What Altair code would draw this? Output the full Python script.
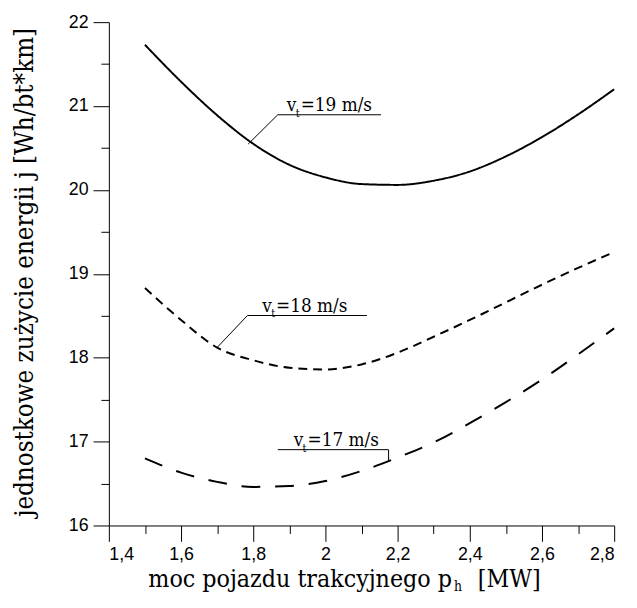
import altair as alt
import pandas as pd

# ---- data ----
power = [1.5, 1.6, 1.7, 1.8, 1.9, 2.0, 2.1, 2.2, 2.3, 2.4, 2.5, 2.6, 2.7, 2.8]
e19 = [21.73, 21.29, 20.89, 20.55, 20.30, 20.15, 20.07, 20.06, 20.11, 20.22, 20.40, 20.63, 20.90, 21.20]
e18 = [18.83, 18.45, 18.12, 17.97, 17.88, 17.86, 17.92, 18.06, 18.25, 18.45, 18.66, 18.87, 19.07, 19.26]
e17 = [16.80, 16.63, 16.52, 16.46, 16.47, 16.53, 16.65, 16.81, 16.99, 17.22, 17.47, 17.74, 18.04, 18.35]
series_names = ["19", "18", "17"]

x_major = [1.4, 1.6, 1.8, 2.0, 2.2, 2.4, 2.6, 2.8]
x_minor = [1.5, 1.7, 1.9, 2.1, 2.3, 2.5, 2.7]
y_major = [16, 17, 18, 19, 20, 21, 22]
y_minor = [16.5, 17.5, 18.5, 19.5, 20.5, 21.5]

# annotation leaders (data units)
lead_x = [1.786, 1.868, 1.700, 1.784, 1.868, 2.175]
lead_y = [20.547, 20.896, 18.122, 18.503, 16.904, 16.904]
lead_x2 = [1.868, 2.154, 1.784, 2.115, 2.175, 2.175]
lead_y2 = [20.896, 20.896, 18.503, 18.503, 16.904, 16.775]
lab_x = [1.893, 1.825, 1.912]
lab_y = [20.896, 18.503, 16.904]
lab_rest = ["=19 m/s", "=18 m/s", "=17 m/s"]

W, H = 511, 509
SANS = "Liberation Sans"
SERIF_C = "DejaVu Serif Condensed, DejaVu Serif"

rows = []
for name, vals in zip(series_names, [e19, e18, e17]):
    for xv, yv in zip(power, vals):
        rows.append({"x": xv, "y": yv, "s": name})
df = pd.DataFrame(rows)

xs = alt.Scale(domain=[1.4, 2.8], nice=False, zero=False)
ys = alt.Scale(domain=[16, 22], nice=False, zero=False)

lines = alt.Chart(df).mark_line(color="black", strokeWidth=2, interpolate="monotone").encode(
    x=alt.X("x:Q", scale=xs, axis=alt.Axis(values=x_major, tickSize=16, labelPadding=4,
                                             labelExpr="replace(format(datum.value, '.1~f'), '.', ',')",
                                             title=None, orient="bottom")),
    y=alt.Y("y:Q", scale=ys, axis=alt.Axis(values=y_major, tickSize=16, labelPadding=5,
                                             title="jednostkowe zużycie energii j [Wh/bt*km]",
                                             titleFont=SERIF_C, titleFontSize=26, titleFontWeight="normal",
                                             titleAngle=270, titleX=-77, titleY=H / 2 - 2,
                                             titleAlign="center", titleBaseline="alphabetic",
                                             titleColor="black", orient="left")),
    detail="s:N",
    strokeDash=alt.StrokeDash("s:N", scale=alt.Scale(domain=series_names,
                                                      range=[[1, 0], [9, 6], [19, 15]]), legend=None),
)

minor = alt.Chart(df).mark_line(opacity=0).encode(
    x=alt.X("x:Q", scale=xs, axis=alt.Axis(values=x_minor, tickSize=8, labels=False, domain=False,
                                             title=None, orient="bottom")),
    y=alt.Y("y:Q", scale=ys, axis=alt.Axis(values=y_minor, tickSize=8, labels=False, domain=False,
                                             title=None, orient="left")),
)

lead_df = pd.DataFrame({"x": lead_x, "y": lead_y, "x2": lead_x2, "y2": lead_y2})
leaders = alt.Chart(lead_df).mark_rule(color="black", strokeWidth=1).encode(
    x=alt.X("x:Q", scale=xs, axis=None), y=alt.Y("y:Q", scale=ys, axis=None),
    x2="x2:Q", y2="y2:Q")

lab_df = pd.DataFrame({"x": lab_x, "y": lab_y, "rest": lab_rest, "v": ["v"] * 3, "t": ["t"] * 3})
base_lab = alt.Chart(lab_df)
enc = dict(x=alt.X("x:Q", scale=xs, axis=None), y=alt.Y("y:Q", scale=ys, axis=None))
t_v = base_lab.mark_text(font=SERIF_C, fontSize=19, align="left", baseline="alphabetic", dy=-4,
                         color="black").encode(text="v:N", **enc)
t_t = base_lab.mark_text(font=SERIF_C, fontSize=11, align="left", baseline="alphabetic", dx=9, dy=2,
                         color="black").encode(text="t:N", **enc)
t_r = base_lab.mark_text(font=SERIF_C, fontSize=19, align="left", baseline="alphabetic", dx=14, dy=-4,
                         color="black").encode(text="rest:N", **enc)

# x-axis title drawn as text so that the subscript can be kept
tdf = pd.DataFrame({"a": ["moc pojazdu trakcyjnego p"], "b": ["h"], "c": ["[MW]"]})
tt = alt.Chart(tdf)
x_t1 = tt.mark_text(font=SERIF_C, fontSize=25, align="right", baseline="alphabetic", color="black").encode(
    text="a:N", x=alt.value(347), y=alt.value(H + 62))
x_t2 = tt.mark_text(font=SERIF_C, fontSize=14, align="left", baseline="alphabetic", color="black").encode(
    text="b:N", x=alt.value(349), y=alt.value(H + 66))
x_t3 = tt.mark_text(font=SERIF_C, fontSize=25, align="left", baseline="alphabetic", color="black").encode(
    text="c:N", x=alt.value(373), y=alt.value(H + 62))

chart = alt.layer(lines, minor, leaders, t_v, t_t, t_r, x_t1, x_t2, x_t3).resolve_scale(
    x="independent", y="independent"
).properties(
    width=W, height=H,
    autosize=alt.AutoSizeParams(type="none"),
    padding={"left": 102, "top": 11, "right": 15, "bottom": 68},
).configure_view(stroke=None).configure_axis(
    grid=False, labelFont=SANS, labelFontSize=18, labelColor="black",
    tickColor="black", domainColor="black", tickWidth=1, domainWidth=1,
)

chart.save("out.html", embed_options={"renderer": "svg", "actions": False})
